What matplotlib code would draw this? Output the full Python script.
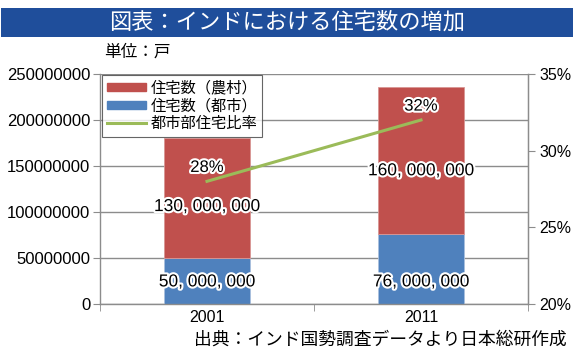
import matplotlib
matplotlib.use("Agg")
import matplotlib.pyplot as plt
import matplotlib.patheffects as pe
from matplotlib.patches import Rectangle

# ---- data ----
years = ["2001", "2011"]
urban = [50000000, 76000000]
rural = [130000000, 160000000]
urban_share = [0.28, 0.32]
urban_labels = ["50, 000, 000", "76, 000, 000"]
rural_labels = ["130, 000, 000", "160, 000, 000"]
share_labels = ["28%", "32%"]
left_ticks = [0, 50000000, 100000000, 150000000, 200000000, 250000000]
right_ticks = [0.20, 0.25, 0.30, 0.35]
legend_names = ["住宅数（農村）", "住宅数（都市）", "都市部住宅比率"]
title = "図表：インドにおける住宅数の増加"
unit_text = "単位：戸"
source_text = "出典：インド国勢調査データより日本総研作成"

# ---- fonts ----
num_font = "Liberation Sans"
jp = ["Noto Sans CJK JP", "DejaVu Sans"]
plt.rcParams["font.family"] = jp

RED = "#C0504D"
BLUE = "#4F81BD"
GREEN = "#9BBB59"
GRID = "#8C8C8C"

W, H = 574, 358
fig = plt.figure(figsize=(W / 100, H / 100), dpi=100)

def fx(px):
    return px / W

def fy(py):
    return 1 - py / H

# title bar
fig.patches.append(Rectangle((fx(1), fy(37)), fx(572), 29 / H, transform=fig.transFigure,
                             facecolor="#1F4E9B", edgecolor="none", zorder=0))
fig.text(fx(287), fy(22.5), title, color="white", fontsize=16, ha="center", va="center",
         family=jp)
fig.text(fx(104), fy(52), unit_text, fontsize=12, ha="left", va="center", family=jp)
fig.text(fx(567), fy(340), source_text, fontsize=12.8, ha="right", va="center", family=jp)

ax = fig.add_axes([fx(100), fy(304), fx(428), (304 - 74) / H])
x = list(range(len(years)))
bw = 0.4
ax.bar(x, urban, width=bw, color=BLUE, edgecolor="#A9C0DE", linewidth=0.6, zorder=2)
ax.bar(x, rural, bottom=urban, width=bw, color=RED, edgecolor="#D99694", linewidth=0.6, zorder=2)
ax.set_xlim(-0.5, 1.5)
ax.set_ylim(0, 250000000)
ax.set_yticks(left_ticks)
ax.set_yticklabels([str(v) for v in left_ticks], family=num_font, fontsize=12)
ax.yaxis.grid(True, color=GRID, linewidth=1.0)
ax.set_axisbelow(True)
ax.set_xticks(x)
ax.set_xticklabels(years, family=num_font, fontsize=11.5)
ax.set_xticks([-0.5, 0.5, 1.5], minor=True)
ax.tick_params(axis="x", which="major", length=0, pad=4)
ax.tick_params(axis="x", which="minor", length=5, color=GRID, direction="out")
ax.tick_params(axis="y", length=5, color=GRID, direction="out", pad=2)
ax.spines["top"].set_visible(False)
for s in ["left", "bottom", "right"]:
    ax.spines[s].set_color(GRID)
    ax.spines[s].set_linewidth(1.0)

stroke = [pe.withStroke(linewidth=3, foreground="white")]
ymax = ax.get_ylim()[1]
for i in x:
    ax.text(i, 0.096 * ymax, urban_labels[i], ha="center", va="center",
            family=num_font, fontsize=12.5, path_effects=stroke, zorder=5)
    ax.text(i, urban[i] + 0.43 * rural[i], rural_labels[i], ha="center", va="center",
            family=num_font, fontsize=12.5, path_effects=stroke, zorder=5)

ax2 = ax.twinx()
ax2.set_ylim(0.20, 0.35)
ax2.set_yticks(right_ticks)
ax2.set_yticklabels([f"{round(v*100)}%" for v in right_ticks], family=num_font, fontsize=11.5)
ax2.tick_params(axis="y", length=5, color=GRID, direction="out", pad=3)
for s in ["top", "left", "bottom"]:
    ax2.spines[s].set_visible(False)
ax2.spines["right"].set_color(GRID)
line, = ax2.plot(x, urban_share, color=GREEN, linewidth=2.2, zorder=3)
for i in x:
    ax2.annotate(share_labels[i], (i, urban_share[i]), xytext=(0, 10), textcoords="offset points",
                 ha="center", va="center", family=num_font, fontsize=12,
                 path_effects=stroke, zorder=5)

handles = [Rectangle((0, 0), 1, 1, color=RED), Rectangle((0, 0), 1, 1, color=BLUE), line]
leg = ax2.legend(handles, legend_names, loc="upper left",
                 bbox_to_anchor=(fx(102), fy(75)), bbox_transform=fig.transFigure,
                 frameon=True, fancybox=False, borderpad=0.3,
                 labelspacing=0.05, handlelength=2.6, handleheight=0.45, handletextpad=0.3,
                 borderaxespad=0, prop={"family": jp, "size": 11})
leg.get_frame().set_edgecolor("#404040")
leg.get_frame().set_linewidth(0.8)
leg.set_zorder(10)

fig.savefig("out.png", dpi=100)
